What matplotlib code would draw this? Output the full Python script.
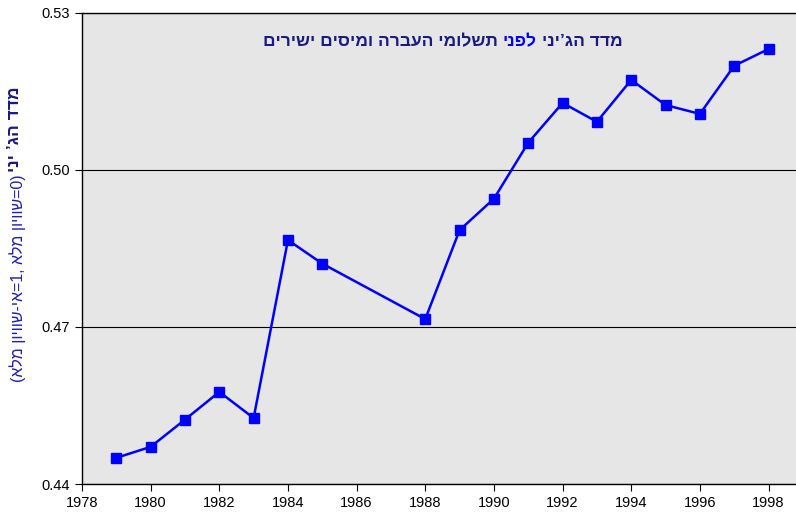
import matplotlib
matplotlib.use("Agg")
import matplotlib.pyplot as plt

# Data
years = [1979, 1980, 1981, 1982, 1983, 1984, 1985, 1988, 1989, 1990,
         1991, 1992, 1993, 1994, 1995, 1996, 1997, 1998]
gini = [0.4450, 0.4471, 0.4523, 0.4576, 0.4526, 0.4866, 0.4821, 0.4715, 0.4885, 0.4945,
        0.5052, 0.5128, 0.5092, 0.5172, 0.5124, 0.5107, 0.5199, 0.5231]
x_ticks = list(range(1978, 1999, 2))
y_ticks = [0.44, 0.47, 0.50, 0.53]

title_a = "מדד הג’יני"
title_b = "לפני"
title_c = "תשלומי העברה ומיסים ישירים"
ylabel_a = "מדד הג’ יני"
ylabel_b = "(0=שוויון מלא ,1=אי-שוויון מלא)"

NAVY = "#1a1a80"
BLUE = "#0000ff"


def visual(s):
    # matplotlib has no bidi support: reverse for right-to-left display
    out = s[::-1]
    return out.translate(str.maketrans("()", ")("))


plt.rcParams["font.family"] = ["Liberation Sans", "DejaVu Sans"]

W, H = 796, 516
fig = plt.figure(figsize=(W / 100, H / 100), dpi=100)
ax = fig.add_axes([0.103, 0.062, 0.897, 0.913])
ax.set_facecolor("#e6e6e6")

ax.plot(years, gini, color=BLUE, lw=1.8, marker="s", ms=7, zorder=3)

ax.set_xlim(1978, 1998.8)
ax.set_ylim(0.44, 0.53)
ax.set_xticks(x_ticks)
ax.set_yticks(y_ticks)
ax.set_yticklabels([f"{v:.2f}" for v in y_ticks])
ax.tick_params(labelsize=10.5, length=5, color="black")
ax.grid(axis="y", color="black", lw=0.8)
ax.spines["right"].set_visible(False)
for s in ["left", "top", "bottom"]:
    ax.spines[s].set_linewidth(1.0)

renderer = fig.canvas.get_renderer()

# title in three pieces, laid out right-to-left (left edge at px 263)
x = 263
ty = 1 - 42 / H
for txt, col in [(visual(title_c), NAVY), (visual(title_b), BLUE), (visual(title_a), NAVY)]:
    t = fig.text(x / W, ty, txt, fontsize=12.5, fontweight="bold", color=col,
                 ha="left", va="center")
    x = t.get_window_extent(renderer).x1 + 5

# y label, two pieces stacked vertically (bold part on top)
t = fig.text(15 / W, 1 - 86 / H, visual(ylabel_a), rotation=90, fontsize=12.5,
             fontweight="bold", color=NAVY, ha="center", va="top")
y_bot = t.get_window_extent(renderer).y0 - 3
fig.text(18 / W, y_bot / H, visual(ylabel_b), rotation=90, fontsize=11.5,
         color="#2020b0", ha="center", va="top")

fig.savefig("out.png", dpi=100)
